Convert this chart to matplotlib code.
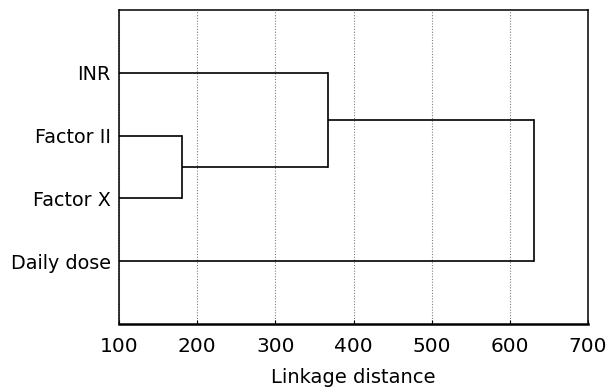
import numpy as np
import matplotlib.pyplot as plt

labels = ["INR", "Factor II", "Factor X", "Daily dose"]
# merges: (left member, right member, linkage distance)
merges = [("Factor II", "Factor X", 180),
          ("INR", "C1", 367),
          ("C2", "Daily dose", 631)]
xticks = [100, 200, 300, 400, 500, 600, 700]

fig = plt.figure(figsize=(6.08, 3.89), dpi=100)
ax = fig.add_axes([0.196, 0.167, 0.771, 0.807])

ypos = {lab: i + 1 for i, lab in enumerate(labels)}
xpos = {lab: 100 for lab in labels}
for k, (a, b, d) in enumerate(merges):
    for m in (a, b):
        ax.plot([xpos[m], d], [ypos[m], ypos[m]], c='k', lw=1.2, solid_capstyle='butt')
    ax.plot([d, d], [ypos[a], ypos[b]], c='k', lw=1.2)
    name = f"C{k + 1}"
    ypos[name] = (ypos[a] + ypos[b]) / 2
    xpos[name] = d

ax.set_xlim(100, 700)
ax.set_ylim(5, 0)
ax.set_xticks(xticks)
ax.set_yticks([ypos[l] for l in labels])
ax.set_yticklabels(labels)
ax.tick_params(axis='x', labelsize=14.5, direction='in', length=3, pad=9)
ax.tick_params(axis='y', labelsize=13.8, length=0, pad=6)
ax.xaxis.grid(True, linestyle=(0, (1, 1.5)), color='0.5', lw=0.8)
ax.set_xlabel('Linkage distance', fontsize=14, labelpad=9)
for s in ax.spines.values():
    s.set_linewidth(1.1)
ax.spines['bottom'].set_linewidth(1.8)

plt.savefig("out.png")
